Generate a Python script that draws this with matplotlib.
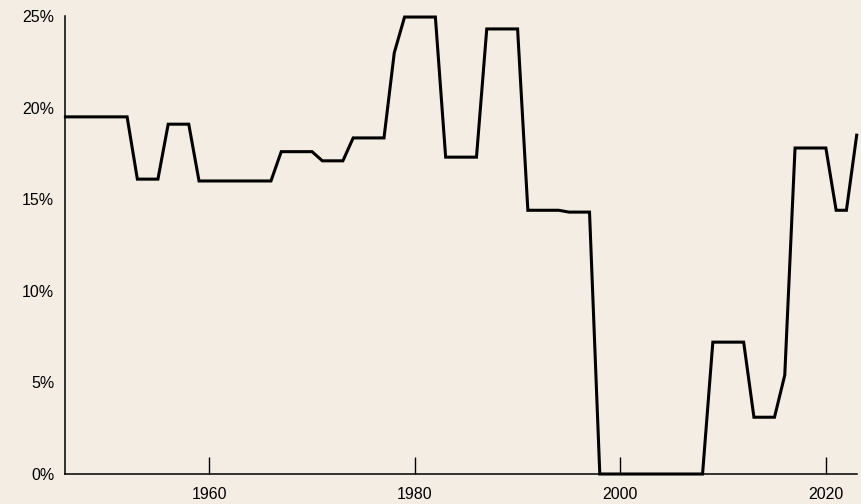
import matplotlib
matplotlib.use('Agg')
import matplotlib.pyplot as plt
from matplotlib.ticker import FuncFormatter

plt.rcParams['font.family'] = ['Liberation Sans', 'DejaVu Sans']

years = list(range(1946, 2024))
rate = [
    19.5, 19.5, 19.5, 19.5, 19.5, 19.5, 19.5,          # 1946-1952
    16.1, 16.1, 16.1,                                  # 1953-1955
    19.1, 19.1, 19.1,                                  # 1956-1958
    16.0, 16.0, 16.0, 16.0, 16.0, 16.0, 16.0, 16.0,    # 1959-1966
    17.6, 17.6, 17.6, 17.6,                            # 1967-1970
    17.1, 17.1, 17.1,                                  # 1971-1973
    18.35, 18.35, 18.35, 18.35,                        # 1974-1977
    23.0,                                              # 1978
    24.95, 24.95, 24.95, 24.95,                        # 1979-1982
    17.3, 17.3, 17.3, 17.3,                            # 1983-1986
    24.3, 24.3, 24.3, 24.3,                            # 1987-1990
    14.4, 14.4, 14.4, 14.4,                            # 1991-1994
    14.3, 14.3, 14.3,                                  # 1995-1997
    0, 0, 0, 0, 0, 0, 0, 0, 0, 0, 0,                   # 1998-2008
    7.2, 7.2, 7.2, 7.2,                                # 2009-2012
    3.1, 3.1, 3.1,                                     # 2013-2015
    5.4,                                               # 2016
    17.8, 17.8, 17.8, 17.8,                            # 2017-2020
    14.4, 14.4,                                        # 2021-2022
    18.5,                                              # 2023
]
xticks = [1960, 1980, 2000, 2020]
yticks = [0, 5, 10, 15, 20, 25]

bg = '#f4ede4'
fig = plt.figure(figsize=(8.61, 5.04), dpi=100, facecolor=bg)
ax = fig.add_axes([0.076, 0.0595, 0.919, 0.9085], facecolor=bg)

ax.plot(years, rate, color='black', lw=2.2, solid_joinstyle='miter', clip_on=False)

ax.set_xlim(1946, 2023)
ax.set_ylim(0, 25)
ax.set_xticks(xticks)
ax.set_yticks(yticks)
ax.yaxis.set_major_formatter(FuncFormatter(lambda v, p: f'{v:.0f}%'))

for s in ['top', 'right']:
    ax.spines[s].set_visible(False)
for s in ['left', 'bottom']:
    ax.spines[s].set_linewidth(1.1)

ax.tick_params(axis='x', direction='in', length=12, width=1.0, pad=9,
               labelsize=11.5, colors='black')
ax.tick_params(axis='y', length=0, pad=8, labelsize=11.5)

fig.savefig('out.png', dpi=100, facecolor=bg)
